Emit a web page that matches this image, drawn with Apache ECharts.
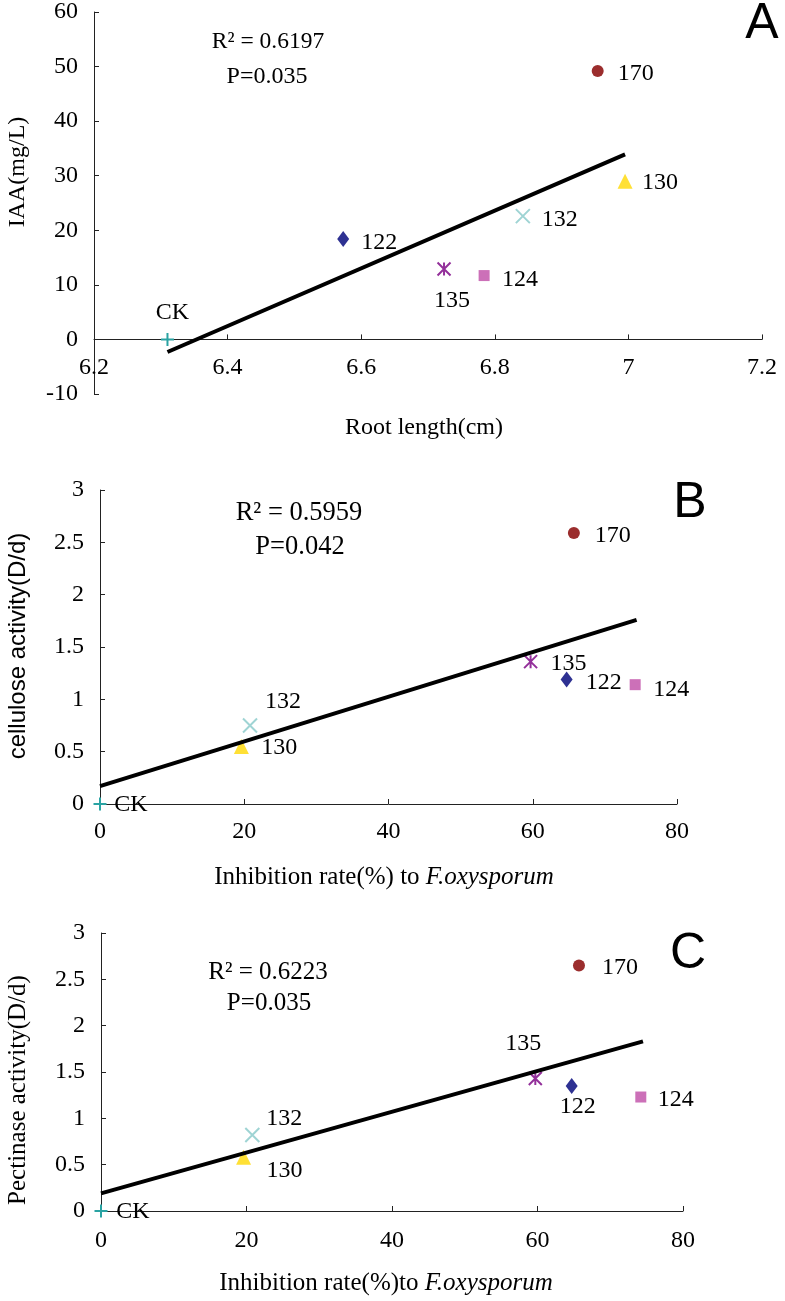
<!DOCTYPE html>
<html>
<head>
<meta charset="utf-8">
<script src="https://cdn.jsdelivr.net/npm/echarts@6/dist/echarts.min.js"></script>
<style>
html,body{margin:0;padding:0;background:#fff;}
#chart{width:785px;height:1301px;}
</style>
</head>
<body>
<div id="chart"></div>
<script>
// ---------- data ----------
const ptNames     = ['CK', '122', '124', '130', '132', '135', '170'];
const rootLength  = [6.31, 6.573, 6.784, 6.995, 6.842, 6.724, 6.954];
const iaa         = [0, 18.4, 11.7, 29.0, 22.6, 12.9, 49.2];
const inhibition  = [0, 64.7, 74.2, 19.6, 20.8, 59.7, 65.7];
const cellulose   = [0, 1.19, 1.14, 0.55, 0.75, 1.36, 2.59];
const pectinase   = [0, 1.35, 1.23, 0.58, 0.82, 1.43, 2.65];

const trendAx = [6.31, 6.995];
const trendAy = [-2.3, 33.9];
const trendBx = [0, 74.4];
const trendBy = [0.17, 1.76];
const trendCx = [0, 74.5];
const trendCy = [0.19, 1.83];

const xTicksA  = ['6.2', '6.4', '6.6', '6.8', '7', '7.2'];
const yTicksA  = ['-10', '0', '10', '20', '30', '40', '50', '60'];
const xTicksBC = ['0', '20', '40', '60', '80'];
const yTicksBC = ['0', '0.5', '1', '1.5', '2', '2.5', '3'];

const statsA = ['R\u00B2 = 0.6197', 'P=0.035'];
const statsB = ['R\u00B2 = 0.5959', 'P=0.042'];
const statsC = ['R\u00B2 = 0.6223', 'P=0.035'];

// ---------- styles / layout ----------
const SERIF = 'Liberation Serif';
const SANS = 'Liberation Sans';
const PLUS = 'path://M5,0L5,10M0,5L10,5';
const CROSS = 'path://M0,0L10,10M10,0L0,10';
const AST = 'path://M0,0L10,10M10,0L0,10M5,0L5,10';

const markerStyle = {
  'CK':  {symbol: PLUS,  size: 13, color: '#2aa3a3', stroke: true},
  '122': {symbol: 'diamond', size: [12, 16], color: '#2e3192'},
  '124': {symbol: 'rect', size: 11, color: '#cc70b8'},
  '130': {symbol: 'triangle', size: 15, color: '#ffe035'},
  '132': {symbol: CROSS, size: 14, color: '#9fd4d4', stroke: true},
  '135': {symbol: AST,   size: 13, color: '#93309a', stroke: true},
  '170': {symbol: 'circle', size: 12, color: '#9b2d2d'}
};

// label offsets (relative to marker centre), order as ptNames
const offA = [[5, -27], [36, 4], [36, 4], [35, 2], [37, 4], [8, 32], [38, 3]];
const offB = [[31, 1], [37, 3], [36, 5], [38, 1], [33, -24], [38, 2], [39, 3]];
const offC = [[32, 1], [6, 21], [35, 3], [41, 13], [32, -16], [-12, -35], [41, 2]];

function buildPoints(xs, ys, offs) {
  return ptNames.map((n, i) => {
    const s = markerStyle[n];
    return {
      name: n,
      value: [xs[i], ys[i]],
      symbol: s.symbol,
      symbolSize: s.size,
      itemStyle: s.stroke
        ? {color: 'rgba(0,0,0,0)', borderColor: s.color, borderWidth: 2, opacity: 1}
        : {color: s.color, borderWidth: 0, opacity: 1},
      label: {offset: offs[i]}
    };
  });
}

function tickFmt(arr, min, step) {
  return function (v) {
    const i = Math.round((v - min) / step);
    return arr[i] !== undefined ? arr[i] : '';
  };
}

const axisLineStyle = {color: '#222', width: 1};
const tickLabel = {fontFamily: SERIF, fontSize: 24, color: '#000'};

function xAxisCfg(g, min, max, interval, ticks, margin) {
  return {
    gridIndex: g, type: 'value', min: min, max: max, interval: interval,
    axisLine: {onZero: true, lineStyle: axisLineStyle},
    axisTick: {inside: true, length: 5, lineStyle: axisLineStyle},
    axisLabel: Object.assign({margin: margin, formatter: tickFmt(ticks, min, interval)}, tickLabel),
    splitLine: {show: false}
  };
}
function yAxisCfg(g, min, max, interval, ticks) {
  return {
    gridIndex: g, type: 'value', min: min, max: max, interval: interval,
    axisLine: {show: true, onZero: false, lineStyle: axisLineStyle},
    axisTick: {show: true, inside: true, length: 5, lineStyle: axisLineStyle},
    axisLabel: Object.assign({margin: 16, formatter: tickFmt(ticks, min, interval)}, tickLabel),
    splitLine: {show: false}
  };
}

function scatterSeries(g, xs, ys, offs) {
  return {
    type: 'scatter', xAxisIndex: g, yAxisIndex: g,
    data: buildPoints(xs, ys, offs),
    itemStyle: {opacity: 1},
    label: {show: true, position: 'inside', formatter: '{b}', color: '#000',
            fontFamily: SERIF, fontSize: 24},
    emphasis: {disabled: true},
    z: 3
  };
}
function trendSeries(g, xs, ys) {
  return {
    type: 'line', xAxisIndex: g, yAxisIndex: g,
    data: xs.map((x, i) => [x, ys[i]]),
    showSymbol: false, symbol: 'none',
    lineStyle: {color: '#000', width: 4},
    emphasis: {disabled: true},
    z: 4
  };
}

function txt(x, y, text, opt) {
  return {
    type: 'text', x: x, y: y, rotation: opt.rot || 0,
    style: Object.assign({text: text, align: 'center', verticalAlign: 'middle',
      fill: '#000', fontFamily: SERIF, fontSize: 20}, opt.style || {})
  };
}

const chart = echarts.init(document.getElementById('chart'), null, {renderer: 'canvas'});

const option = {
  backgroundColor: '#fff',
  animation: false,
  grid: [
    {left: 94, top: 10, width: 668, height: 384},
    {left: 100, top: 490, width: 577, height: 314},
    {left: 101, top: 933, width: 582, height: 278}
  ],
  xAxis: [
    xAxisCfg(0, 6.2, 7.2, 0.2, xTicksA, -38),
    xAxisCfg(1, 0, 80, 20, xTicksBC, 16),
    xAxisCfg(2, 0, 80, 20, xTicksBC, 18)
  ],
  yAxis: [
    yAxisCfg(0, -10, 60, 10, yTicksA),
    yAxisCfg(1, 0, 3, 0.5, yTicksBC),
    yAxisCfg(2, 0, 3, 0.5, yTicksBC)
  ],
  series: [
    scatterSeries(0, rootLength, iaa, offA),
    trendSeries(0, trendAx, trendAy),
    scatterSeries(1, inhibition, cellulose, offB),
    trendSeries(1, trendBx, trendBy),
    scatterSeries(2, inhibition, pectinase, offC),
    trendSeries(2, trendCx, trendCy)
  ],
  graphic: [
    // panel letters
    txt(762, 24, 'A', {style: {fontFamily: SANS, fontSize: 50}}),
    txt(690, 503, 'B', {style: {fontFamily: SANS, fontSize: 50}}),
    txt(688, 954, 'C', {style: {fontFamily: SANS, fontSize: 50}}),
    // stats
    txt(268, 42, statsA[0], {style: {fontSize: 23.5}}),
    txt(267, 77, statsA[1], {style: {fontSize: 24}}),
    txt(299, 513, statsB[0], {style: {fontSize: 26.5}}),
    txt(300, 547, statsB[1], {style: {fontSize: 26.5}}),
    txt(268, 972, statsC[0], {style: {fontSize: 25}}),
    txt(269, 1003, statsC[1], {style: {fontSize: 25}}),
    // y-axis titles
    txt(18, 172, 'IAA(mg/L)', {rot: Math.PI / 2, style: {fontSize: 24}}),
    txt(18, 646, 'cellulose activity(D/d)', {rot: Math.PI / 2, style: {fontFamily: SANS, fontSize: 24}}),
    txt(18, 1090, 'Pectinase activity(D/d)', {rot: Math.PI / 2, style: {fontSize: 25}}),
    // x-axis titles
    txt(424, 428, 'Root length(cm)', {style: {fontSize: 24}}),
    {
      type: 'text', x: 384, y: 877,
      style: {
        text: '{n|Inhibition rate(%) to }{i|F.oxysporum}',
        align: 'center', verticalAlign: 'middle',
        rich: {
          n: {fontFamily: SERIF, fontSize: 25, fill: '#000'},
          i: {fontFamily: SERIF, fontSize: 25, fontStyle: 'italic', fill: '#000'}
        }
      }
    },
    {
      type: 'text', x: 386, y: 1283,
      style: {
        text: '{n|Inhibition rate(%)to }{i|F.oxysporum}',
        align: 'center', verticalAlign: 'middle',
        rich: {
          n: {fontFamily: SERIF, fontSize: 25, fill: '#000'},
          i: {fontFamily: SERIF, fontSize: 25, fontStyle: 'italic', fill: '#000'}
        }
      }
    }
  ]
};
chart.setOption(option);
</script>
</body>
</html>
